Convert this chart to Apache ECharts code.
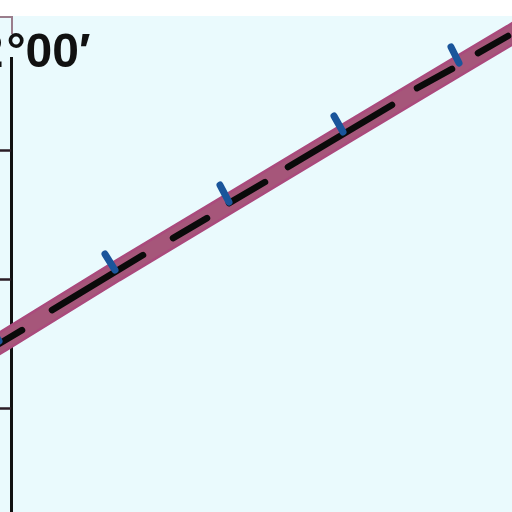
<!DOCTYPE html>
<html>
<head>
<meta charset="utf-8">
<script src="https://cdn.jsdelivr.net/npm/echarts@6/dist/echarts.min.js"></script>
<style>
html, body { margin: 0; padding: 0; background: #ffffff; overflow: hidden; }
#chart { width: 512px; height: 512px; }
</style>
</head>
<body>
<div id="chart"></div>
<script>
// route centre line (x: along-track units, y: latitude minutes)
var routeX = [-3.1, -1.1, 10.4, 21.9, 33.2, 44.9, 50.1, 51.9];
var routeY = [14.14, 15.07, 20.56, 25.90, 31.17, 36.58, 38.98, 39.84];

// black dashes drawn along the route
var dashStartX = [-2.1, 4.1, 16.2, 21.8, 27.7, 40.6, 46.7];
var dashStartY = [14.60, 17.62, 23.19, 25.90, 28.69, 34.80, 37.51];
var dashEndX = [1.1, 13.2, 19.6, 25.4, 38.1, 44.1, 49.7];
var dashEndY = [16.07, 21.88, 24.74, 27.53, 33.49, 36.28, 38.83];

// blue station marks (tip -> base on the route)
var markTipX = [-2.2, 9.4, 20.9, 32.3, 44.0];
var markTipY = [16.54, 21.96, 27.30, 32.64, 37.98];
var markBaseX = [-1.2, 10.4, 21.8, 33.2, 44.8];
var markBaseY = [15.22, 20.72, 25.98, 31.40, 36.74];

// latitude ticks, label split in pieces: degrees / degree sign / minutes
var latTicks = [10, 20, 30];
var latLabelDeg = '2';
var latLabelSign = '°';
var latLabelMin = '00′';

var bg = '#eafafd';
var labelFont = 'bold 48px "Liberation Sans Narrow", "Liberation Sans", sans-serif';

var routeData = [];
for (var i = 0; i < routeX.length; i++) {
	routeData.push([routeX[i], routeY[i]]);
}
var dashData = [];
for (var i = 0; i < dashStartX.length; i++) {
	dashData.push({coords: [[dashStartX[i], dashStartY[i]], [dashEndX[i], dashEndY[i]]]});
}
var markData = [];
for (var i = 0; i < markTipX.length; i++) {
	markData.push({coords: [[markTipX[i], markTipY[i]], [markBaseX[i], markBaseY[i]]]});
}

var option = {
	animation: false,
	backgroundColor: bg,
	grid: {left: 0, right: 0, top: 17, bottom: 0, containLabel: false, outerBoundsMode: 'none'},
	xAxis: {
		type: 'value', min: -1.1, max: 50.1, show: false,
		axisLabel: {show: false}, splitLine: {show: false}
	},
	yAxis: {
		type: 'value', min: 2, max: 40.3,
		axisLine: {show: true, onZero: true, lineStyle: {color: '#111111', width: 3}},
		axisTick: {show: true, length: 11, customValues: latTicks, lineStyle: {color: '#2b1c26', width: 2.5}},
		axisLabel: {show: false},
		splitLine: {show: false}
	},
	series: [
		{
			type: 'line', data: routeData, symbol: 'none', z: 2,
			lineStyle: {color: '#aa4a7c', width: 21}
		},
		{
			type: 'line', data: routeData, symbol: 'none', z: 3,
			lineStyle: {color: '#a6567a', width: 16}
		},
		{
			type: 'lines', coordinateSystem: 'cartesian2d', data: dashData, z: 4,
			lineStyle: {color: '#0a0a0a', width: 6.5, cap: 'round', opacity: 1}
		},
		{
			type: 'lines', coordinateSystem: 'cartesian2d', data: markData, z: 5,
			lineStyle: {color: '#1a559b', width: 7, cap: 'round', opacity: 1}
		}
	],
	graphic: [
		{type: 'rect', z: 100, shape: {x: 0, y: 0, width: 512, height: 16}, style: {fill: '#ffffff'}},
		{type: 'rect', z: 100, shape: {x: 7, y: 16, width: 10, height: 41}, style: {fill: bg}},
		{type: 'polyline', z: 101, shape: {points: [[0, 17], [12, 17], [12, 34]]}, style: {stroke: '#9a7d8c', lineWidth: 2, fill: null}},
		{
			type: 'text', z: 102, x: 3.5, y: 30,
			style: {text: latLabelDeg, font: labelFont, fill: '#111111', align: 'right', verticalAlign: 'top'}
		},
		{
			type: 'text', z: 102, x: 6.5, y: 30,
			style: {text: latLabelSign, font: labelFont, fill: '#111111', align: 'left', verticalAlign: 'top'}
		},
		{
			type: 'text', z: 102, x: 25.5, y: 30,
			style: {text: latLabelMin, font: labelFont, fill: '#111111', align: 'left', verticalAlign: 'top'}
		}
	]
};
echarts.init(document.getElementById('chart')).setOption(option);
</script>
</body>
</html>
